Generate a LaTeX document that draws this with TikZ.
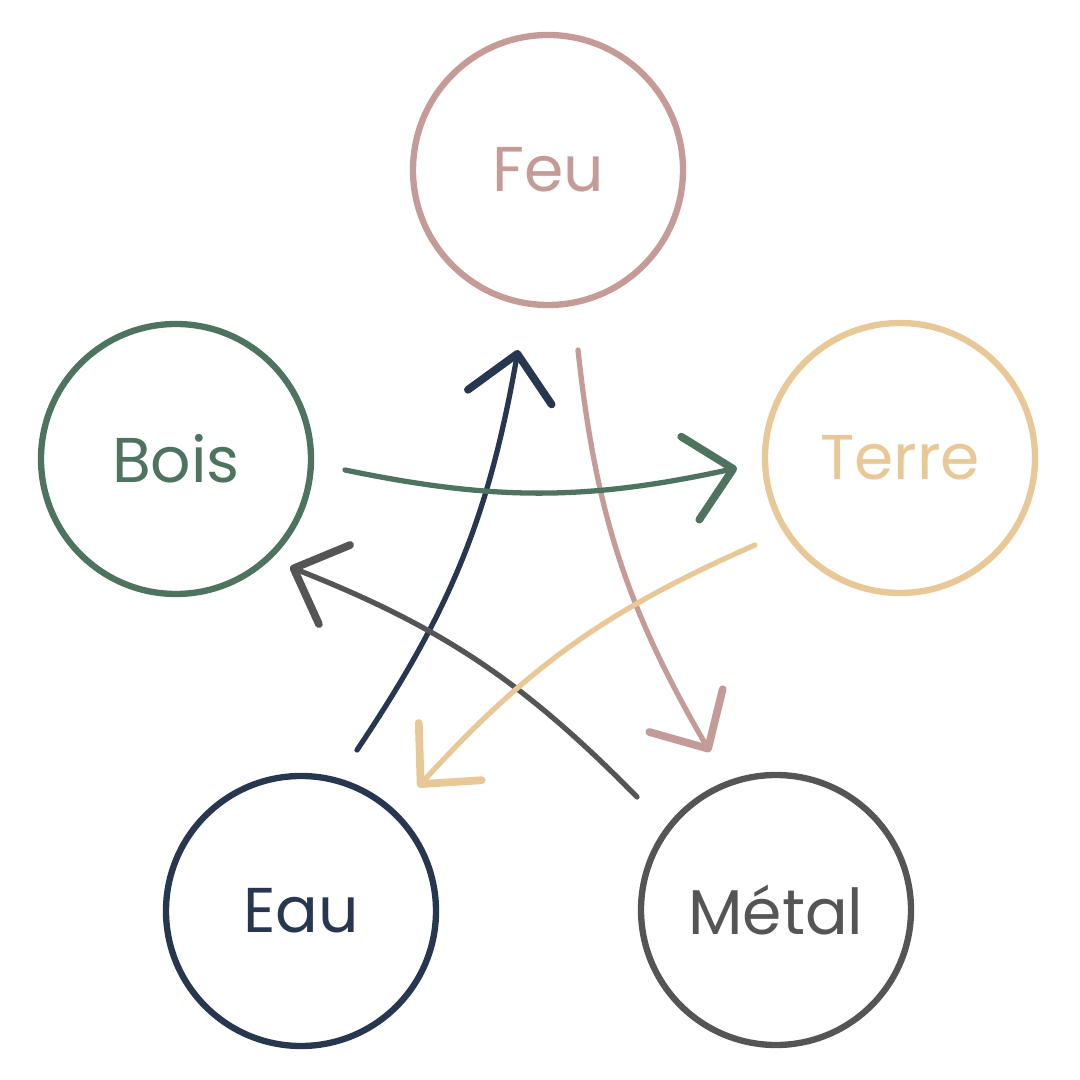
\documentclass[tikz,border=0pt]{standalone}
\usepackage{fontspec}
\setmainfont{Poppins}
\usetikzlibrary{arrows.meta,calc}

\definecolor{feucol}{HTML}{C49B96}
\definecolor{boiscol}{HTML}{4E735F}
\definecolor{terrecol}{HTML}{E8C896}
\definecolor{eaucol}{HTML}{283750}
\definecolor{metalcol}{HTML}{555555}

\tikzset{
  element/.style={circle,draw=#1,text=#1,line width=1.8pt,minimum size=2.7cm,
    inner sep=0pt,font=\fontsize{18}{20}\selectfont},
  cycle/.style={draw=#1,line width=1.5pt,line cap=round,
    -{Straight Barb[length=4.4mm,width=8.5mm,line width=2.2pt,round]}},
}

\begin{document}
\begin{tikzpicture}
  \useasboundingbox (0,0) rectangle (10.8,10.8);

  % the five elements
  \node[element=feucol]   (feu)   at (5.48,9.10) {Feu};
  \node[element=terrecol] (terre) at (9.00,6.22) {Terre};
  \node[element=boiscol]  (bois)  at (1.76,6.21) {Bois};
  \node[element=eaucol]   (eau)   at (3.01,1.69) {Eau};
  \node[element=metalcol] (metal) at (7.76,1.70) {Métal};

  % end points of the arrows
  \coordinate (eau-out)   at ([shift={(0.56,1.61)}]eau.center);
  \coordinate (feu-in)    at ([shift={(-0.30,-1.80)}]feu.center);
  \coordinate (feu-out)   at ([shift={(0.30,-1.80)}]feu.center);
  \coordinate (metal-in)  at ([shift={(-0.66,1.58)}]metal.center);
  \coordinate (metal-out) at ([shift={(-1.39,1.13)}]metal.center);
  \coordinate (bois-in)   at ([shift={(1.14,-1.08)}]bois.center);
  \coordinate (bois-out)  at ([shift={(1.69,-0.11)}]bois.center);
  \coordinate (terre-in)  at ([shift={(-1.63,-0.10)}]terre.center);
  \coordinate (terre-out) at ([shift={(-1.45,-0.87)}]terre.center);
  \coordinate (eau-in)    at ([shift={(1.17,1.24)}]eau.center);

  % controlling cycle
  \draw[cycle=eaucol]   (eau-out)   to[bend right=12] (feu-in);
  \draw[cycle=feucol]   (feu-out)   to[bend right=12] (metal-in);
  \draw[cycle=metalcol] (metal-out) to[bend right=12] (bois-in);
  \draw[cycle=boiscol]  (bois-out)  to[bend right=12] (terre-in);
  \draw[cycle=terrecol] (terre-out) to[bend right=12] (eau-in);
\end{tikzpicture}
\end{document}
